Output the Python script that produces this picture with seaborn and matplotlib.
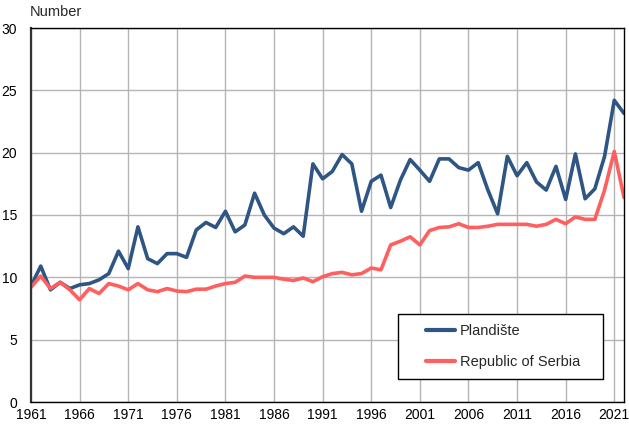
import numpy as np
import pandas as pd
import matplotlib.pyplot as plt
import matplotlib.patches as patches
import seaborn as sns

# ---- data ----
years = list(range(1961, 2023))

plandiste = [9.3, 10.9, 9.0, 9.6, 9.1, 9.4, 9.5, 9.8, 10.3, 12.1,
             10.7, 14.05, 11.5, 11.1, 11.9, 11.9, 11.6, 13.8, 14.4, 14.0,
             15.3, 13.65, 14.2, 16.75, 15.0, 13.95, 13.5, 14.05, 13.3, 19.1,
             17.9, 18.5, 19.85, 19.1, 15.3, 17.7, 18.2, 15.6, 17.8, 19.45,
             18.6, 17.7, 19.5, 19.5, 18.8, 18.6, 19.2, 17.0, 15.1, 19.7,
             18.15, 19.2, 17.65, 17.0, 18.9, 16.25, 19.9, 16.3, 17.1, 19.7,
             24.2, 23.15]

serbia = [9.2, 10.1, 9.1, 9.6, 9.0, 8.2, 9.1, 8.7, 9.5, 9.3,
          9.0, 9.5, 9.0, 8.85, 9.1, 8.9, 8.85, 9.05, 9.05, 9.3,
          9.5, 9.6, 10.1, 10.0, 10.0, 10.0, 9.85, 9.75, 9.95, 9.65,
          10.05, 10.3, 10.4, 10.2, 10.3, 10.75, 10.6, 12.6, 12.9, 13.25,
          12.6, 13.75, 14.0, 14.05, 14.3, 14.0, 14.0, 14.1, 14.25, 14.25,
          14.25, 14.25, 14.1, 14.25, 14.65, 14.3, 14.85, 14.65, 14.65, 17.0,
          20.1, 16.4]

series_names = ["Plandište", "Republic of Serbia"]
series_colors = ["#2E5583", "#FF5F5F"]

xtick_years = list(range(1961, 2022, 5))
ytick_vals = [0, 5, 10, 15, 20, 25, 30]

df = pd.DataFrame({
    "year": years * 2,
    "value": plandiste + serbia,
    "area": [series_names[0]] * len(years) + [series_names[1]] * len(years),
})

# ---- style ----
sns.set_style("white")
plt.rcParams["font.family"] = ["Liberation Sans", "DejaVu Sans"]

fig = plt.figure(figsize=(6.29, 4.26), dpi=100)
ax = fig.add_axes([31 / 629, 1 - 402 / 426, 593 / 629, 374 / 426])

sns.lineplot(data=df, x="year", y="value", hue="area",
             palette=dict(zip(series_names, series_colors)),
             linewidth=2.6, ax=ax, legend=True)

ax.set_xlim(1961, 2022)
ax.set_ylim(0, 30)
ax.set_xticks(xtick_years)
ax.set_yticks(ytick_vals)
ax.set_xlabel("")
ax.set_ylabel("")
ax.grid(True, color="#B4B4B4", linewidth=1.0)
ax.set_axisbelow(True)
ax.tick_params(axis="both", length=0, labelsize=10, colors="black")
ax.tick_params(axis="x", pad=4)
ax.tick_params(axis="y", pad=10)
for s in ax.spines.values():
    s.set_color("black")
    s.set_linewidth(1.0)
ax.spines["left"].set_linewidth(1.6)
ax.spines["left"].set_color("#333333")

fig.text(30 / 629, 1 - 12 / 426, "Number", fontsize=10.5, va="center", ha="left")

# legend box drawn separately (wide padding on the left like the original)
box = patches.Rectangle((0.619, 0.0615), 0.346, 0.174, transform=ax.transAxes,
                        facecolor="white", edgecolor="black", linewidth=1.0,
                        zorder=4)
ax.add_patch(box)

leg = ax.legend(loc="center left", bbox_to_anchor=(0.666, 0.0615 + 0.087),
                frameon=False, fontsize=10.5,
                handlelength=2.0, labelspacing=1.15, borderpad=0,
                borderaxespad=0, handletextpad=0.35)
leg.set_zorder(5)
for line in leg.get_lines():
    line.set_linewidth(3)

fig.savefig("out.png", dpi=100)
